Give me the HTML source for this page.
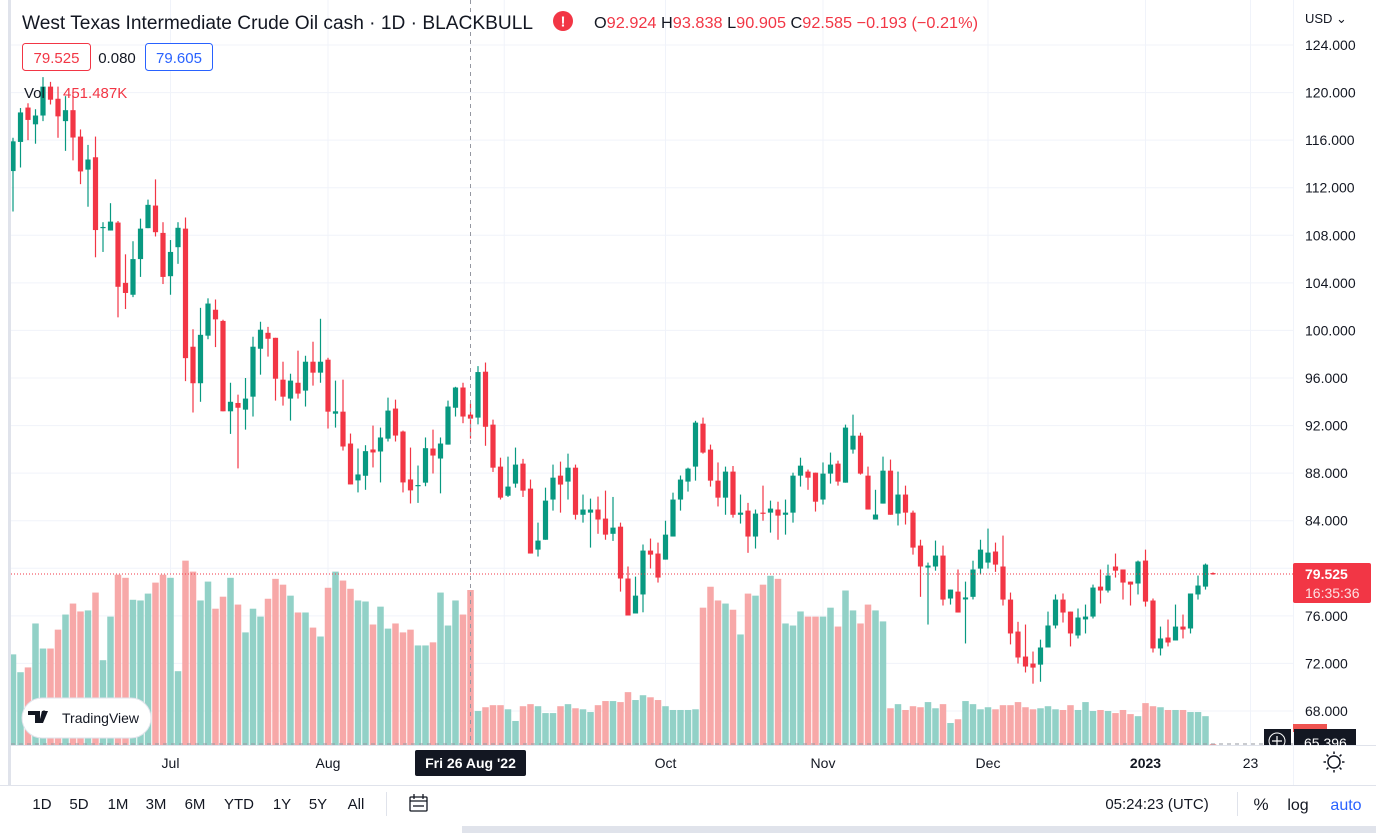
<!DOCTYPE html>
<html><head><meta charset="utf-8"><style>
html,body{margin:0;padding:0;background:#fff;width:1376px;height:833px;overflow:hidden}
svg{display:block;font-family:"Liberation Sans",Arial,sans-serif}
</style></head><body>
<svg id="chart" width="1376" height="833" viewBox="0 0 1376 833" xmlns="http://www.w3.org/2000/svg">
<rect x="0" y="0" width="1376" height="833" fill="#fff"/>
<g id="grid"></g>
<g id="vols"></g>
<g id="candles"></g>
<g id="overlay"></g>
</svg>
<script>
const opens=[113.4,115.85,118.74,117.33,118.07,120.5,119.48,117.6,118.52,116.3,113.52,114.56,108.6,108.4,109.07,104.0,103.0,106.0,108.6,110.5,108.2,104.56,107.0,108.56,98.63,95.56,99.56,101.74,100.8,93.2,93.9,93.34,94.43,98.46,99.8,99.38,95.86,94.27,95.6,94.94,97.37,96.45,97.54,93.0,93.17,90.49,87.39,87.78,89.99,89.82,90.9,93.43,91.5,87.47,86.95,87.2,90.07,89.23,90.4,93.5,95.2,92.924,92.67,96.53,92.08,88.55,86.1,87.12,88.8,86.7,81.57,82.4,85.78,87.79,87.29,88.46,84.5,84.68,84.94,84.18,82.9,83.5,79.14,76.2,77.8,81.49,81.24,80.73,82.67,85.78,87.29,88.55,92.16,89.98,87.37,85.94,88.13,84.5,84.85,82.67,84.68,84.68,84.94,84.5,84.68,87.79,88.13,88.04,85.78,87.96,88.8,87.2,89.98,91.15,87.79,84.1,85.44,88.21,84.6,86.2,84.68,81.91,80.06,80.15,81.07,77.46,78.04,77.38,77.6,79.97,80.48,81.41,80.15,77.37,74.68,72.58,71.99,71.9,73.34,75.19,77.37,76.36,74.35,75.7,75.94,78.46,78.13,80.15,79.9,78.88,78.72,80.65,77.29,73.26,74.18,73.93,75.1,74.94,77.8,78.46,79.6];
const highs=[116.2,118.7,119.1,118.6,121.3,120.9,120.5,119.7,120.0,116.9,115.6,116.3,109.1,110.7,109.2,106.4,107.5,109.4,111.0,112.7,109.1,107.6,109.1,109.5,100.1,101.9,102.7,102.6,100.9,95.6,94.6,96.0,99.47,100.73,100.3,99.38,97.37,96.36,98.3,97.87,99.05,100.98,97.7,95.78,95.86,91.33,90.07,90.35,92.0,91.83,94.35,94.18,91.58,90.15,88.64,91.0,91.66,91.0,94.1,95.26,95.6,93.838,97.0,97.3,92.5,89.3,89.39,90.15,89.2,87.46,83.84,86.78,88.72,88.97,89.64,88.72,86.2,85.86,86.03,86.53,86.0,83.84,80.15,79.3,82.0,82.5,82.16,84.0,86.36,87.8,88.46,92.4,92.67,90.4,88.9,88.55,88.6,86.2,85.5,84.94,86.95,85.69,85.6,85.78,88.04,89.3,88.3,88.04,88.9,89.73,89.05,92.08,92.92,91.4,88.55,86.6,89.39,89.14,88.13,86.95,84.85,82.4,80.48,82.33,81.91,78.21,79.9,78.88,80.64,82.4,83.34,82.16,82.75,77.96,75.5,75.27,73.0,74.0,76.36,77.8,77.88,76.36,76.62,76.95,78.63,79.9,80.31,81.24,79.9,78.88,80.65,81.57,77.46,75.1,75.69,76.95,76.11,77.88,79.39,80.4,79.65];
const lows=[110.0,113.7,116.0,115.7,117.6,119.0,116.2,115.1,114.3,112.3,110.4,106.15,106.6,108.4,101.1,101.8,102.8,104.5,108.6,107.9,103.9,103.0,105.6,95.74,93.1,94.0,99.26,98.6,93.2,91.3,88.4,91.66,92.76,96.28,97.8,94.1,93.68,92.42,94.27,93.6,95.36,95.6,91.75,91.83,89.9,87.05,86.38,86.6,88.48,87.22,90.66,90.66,86.38,85.45,85.5,86.9,87.97,86.3,90.4,92.76,92.2,90.905,92.1,90.3,88.1,85.78,86.0,86.78,86.0,81.24,80.99,82.4,84.85,84.68,85.78,84.1,83.84,81.74,82.9,82.4,82.3,78.04,76.03,76.2,76.3,79.98,78.8,80.73,82.67,84.85,86.45,87.37,89.64,86.87,85.2,84.5,84.26,83.76,81.3,81.66,84.0,83.0,82.4,82.83,83.84,86.87,86.6,84.77,85.36,87.12,86.95,87.2,89.64,87.88,84.94,84.1,85.44,84.5,83.6,83.68,81.15,77.6,75.27,79.8,76.87,76.95,76.28,73.68,77.38,79.47,79.98,79.7,76.87,73.6,71.99,71.24,70.3,70.46,73.34,74.94,75.44,73.43,74.1,74.52,75.78,77.04,77.96,79.22,77.37,76.87,77.8,76.78,72.92,72.67,73.43,73.93,74.1,74.52,77.37,78.21,79.45];
const closes=[115.9,118.33,117.7,118.07,120.5,119.4,118.0,118.52,116.22,113.37,114.37,108.44,108.7,109.15,103.67,103.15,106.0,108.56,110.56,108.26,104.5,106.6,108.63,97.67,95.56,99.63,102.26,100.93,93.2,94.0,93.5,94.27,98.63,100.06,99.3,95.94,94.43,95.78,94.69,97.37,96.45,97.37,93.17,93.2,90.24,87.05,87.89,89.85,89.74,91.0,93.26,91.16,87.22,86.55,87.0,90.1,89.48,90.49,93.6,95.2,92.76,92.585,96.5,91.9,88.46,85.94,86.87,88.72,86.53,81.24,82.33,85.69,87.62,87.04,88.46,84.5,84.94,84.94,84.1,82.83,83.42,79.14,76.03,77.7,81.49,81.15,79.22,82.83,85.78,87.46,88.38,92.25,89.73,87.37,85.94,88.13,84.5,84.68,82.67,84.6,84.6,85.02,84.43,84.68,87.79,88.63,87.62,85.6,87.96,88.72,87.29,91.83,91.15,87.96,84.94,84.52,88.21,84.5,86.2,84.68,81.74,80.15,80.23,81.07,77.37,78.21,76.28,77.55,79.9,81.57,81.32,80.31,77.37,74.52,72.5,71.74,71.65,73.34,75.19,77.37,76.28,74.52,75.86,75.94,78.38,78.13,79.39,79.8,78.8,78.63,80.57,77.2,73.26,74.1,73.76,75.1,74.85,77.88,78.55,80.31,79.525];
const volumes=[264,212,226,354,281,281,336,380,412,389,392,444,247,374,496,487,423,421,441,473,496,487,215,537,505,421,476,397,432,487,409,328,397,374,426,484,467,435,386,386,342,316,458,505,479,455,421,418,351,403,339,354,328,336,290,290,299,444,348,421,380,451.487,99,110,116,116,104,70,113,119,113,93,93,113,119,107,104,96,116,128,128,125,154,131,145,139,131,113,102,102,102,104,400,461,421,412,394,322,441,435,467,493,484,354,348,389,374,374,374,400,345,450,392,354,409,392,360,107,119,102,113,110,125,107,119,64,75,128,119,104,110,104,116,116,125,110,104,107,113,104,102,116,102,125,99,102,99,93,102,90,84,122,113,110,102,102,102,96,96,84,3];
const priceTicks=[124,120,116,112,108,104,100,96,92,88,84,80,76,72,68];
const timeLabels=["Jul","Aug","Oct","Nov","Dec","2023","23"];
const timeIdx=[21,42,87,108,130,151,165];
const lastPrice=79.525;

const NS="http://www.w3.org/2000/svg";
const xOf=i=>13+7.5*i;
const yOf=p=>45+(124-p)*11.893;
const volBase=745, volScale=155/451.487;
const yVol=v=>volBase-v*volScale;
const GREEN="#089981",RED="#f23645";
function mk(tag,attrs,parent,text){const e=document.createElementNS(NS,tag);for(const k in attrs)e.setAttribute(k,attrs[k]);if(text!==undefined)e.textContent=text;parent.appendChild(e);return e;}
const grid=document.getElementById('grid'),vols=document.getElementById('vols'),cg=document.getElementById('candles'),ov=document.getElementById('overlay');

priceTicks.forEach(p=>{const l=mk('line',{x1:11,x2:1293,y1:yOf(p),y2:yOf(p),stroke:'#f0f3fa','stroke-width':1},grid);

});
[...timeIdx.slice(0,2),65.5,...timeIdx.slice(2)].forEach(i=>{const l=mk('line',{x1:xOf(i),x2:xOf(i),y1:0,y2:745,stroke:'#f0f3fa','stroke-width':1},grid);

});

volumes.forEach((v,i)=>{const up=closes[i]>=opens[i];const y=yVol(v);
const r=mk('rect',{x:xOf(i)-3.25,y:y,width:6.5,height:volBase-y,fill:up?'#92d1c7':'#f7a8a8'},vols);

});

opens.forEach((o,i)=>{const c=closes[i],up=c>=o,col=up?GREEN:RED,x=xOf(i);
const g=mk('g',{},cg);


mk('line',{x1:x,x2:x,y1:yOf(highs[i]),y2:yOf(lows[i]),stroke:col,'stroke-width':1.2},g);
const t=yOf(Math.max(o,c)),b=yOf(Math.min(o,c));
mk('rect',{x:x-2.6,y:t,width:5.2,height:Math.max(1.2,b-t),fill:col},g);});

const lp=mk('line',{x1:11,x2:1293,y1:yOf(lastPrice),y2:yOf(lastPrice),stroke:RED,'stroke-width':1,'stroke-dasharray':'1 2'},ov);



const ch=mk('line',{x1:470.5,x2:470.5,y1:0,y2:745,stroke:'#9598a1','stroke-width':1,'stroke-dasharray':'4 4'},ov);


const chh=mk('line',{x1:11,x2:1293,y1:744,y2:744,stroke:'#9598a1','stroke-width':1,'stroke-dasharray':'4 4'},ov);



mk('rect',{x:8,y:0,width:3,height:785,fill:'#e0e3eb'},ov);
mk('line',{x1:11,x2:1376,y1:745.5,y2:745.5,stroke:'#e0e3eb'},ov);
mk('line',{x1:1293.5,x2:1293.5,y1:0,y2:785,stroke:'#f0f3fa'},ov);
mk('line',{x1:0,x2:1376,y1:785.5,y2:785.5,stroke:'#e0e3eb'},ov);
mk('rect',{x:462,y:826,width:914,height:7,fill:'#e0e3eb'},ov);

priceTicks.forEach(p=>{const t=mk('text',{x:1305,y:yOf(p)+5,'font-size':14,fill:'#131722'},ov,p.toFixed(3));

});
const usd=mk('text',{x:1305,y:23,'font-size':13,fill:'#131722'},ov,'USD ⌄');



const lpl=mk('g',{},ov);


mk('rect',{x:1293,y:yOf(lastPrice)-11,width:78,height:40,rx:2,fill:RED},lpl);
mk('text',{x:1305,y:yOf(lastPrice)+5,'font-size':14,fill:'#fff','font-weight':'bold'},lpl,lastPrice.toFixed(3));
mk('text',{x:1305,y:yOf(lastPrice)+24,'font-size':14,fill:'#fde0e2'},lpl,'16:35:36');

mk('rect',{x:1293,y:724,width:34,height:8,fill:'#ef5350'},ov);
const cpl=mk('g',{},ov);


mk('rect',{x:1294,y:729,width:62,height:16,fill:'#131722'},cpl);
mk('text',{x:1304,y:748,'font-size':14,fill:'#fff'},cpl,'65.396');
const plus=mk('g',{},ov);


mk('rect',{x:1264,y:729,width:27,height:16,fill:'#131722'},plus);
mk('circle',{cx:1277,cy:741,r:8,fill:'none',stroke:'#fff','stroke-width':1},plus);
mk('path',{d:'M1277 736v10M1272 741h10',stroke:'#fff','stroke-width':1.2},plus);

timeLabels.forEach((s,k)=>{const t=mk('text',{x:xOf(timeIdx[k]),y:768,'font-size':14,fill:'#131722','text-anchor':'middle','font-weight':s==='2023'?'bold':'normal'},ov,s);

});
const dl=mk('g',{},ov);


mk('rect',{x:415,y:750,width:111,height:26,rx:2,fill:'#131722'},dl);
mk('text',{x:470.5,y:768,'font-size':14,fill:'#fff','text-anchor':'middle','font-weight':'bold'},dl,"Fri 26 Aug '22");
const gear=mk('g',{},ov);


mk('circle',{cx:1334,cy:762,r:6,fill:'none',stroke:'#131722','stroke-width':1.5},gear);
for(let a=0;a<8;a++){const r=a*Math.PI/4;mk('line',{x1:1334+8*Math.cos(r),y1:762+8*Math.sin(r),x2:1334+10.5*Math.cos(r),y2:762+10.5*Math.sin(r),stroke:'#131722','stroke-width':1.5},gear);}
</script>

<svg width="1376" height="833" viewBox="0 0 1376 833" style="position:absolute;left:0;top:0;pointer-events:none" font-family="Liberation Sans, Arial, sans-serif">
<text x="22" y="29" font-size="19" fill="#131722" textLength="511" lengthAdjust="spacingAndGlyphs">West Texas Intermediate Crude Oil cash · 1D · BLACKBULL</text>
<g><circle cx="563" cy="21" r="10" fill="#f23645"/><text x="563" y="26.5" font-size="15" font-weight="bold" fill="#fff" text-anchor="middle">!</text></g>
<text x="594" y="28" font-size="16" fill="#131722" textLength="384" lengthAdjust="spacingAndGlyphs">O<tspan fill="#f23645">92.924</tspan> H<tspan fill="#f23645">93.838</tspan> L<tspan fill="#f23645">90.905</tspan> C<tspan fill="#f23645">92.585 −0.193 (−0.21%)</tspan></text>
<g><rect x="22.5" y="43.5" width="68" height="27" rx="3" fill="#fff" stroke="#f23645"/><text x="56.5" y="63" font-size="15" fill="#f23645" text-anchor="middle">79.525</text></g>
<text x="117" y="63" font-size="15" fill="#131722" text-anchor="middle">0.080</text>
<g><rect x="145.5" y="43.5" width="67" height="27" rx="3" fill="#fff" stroke="#2962ff"/><text x="179" y="63" font-size="15" fill="#2962ff" text-anchor="middle">79.605</text></g>
<text x="24" y="98" font-size="15" fill="#131722">Vol</text>
<text x="63" y="98" font-size="15" fill="#f23645">451.487K</text>
<g><rect x="22" y="698" width="129" height="40" rx="20" fill="#fff" stroke="#e0e3eb"/><path d="M28 711h12v12h-5v-8h-7z M42 711h6l-5 12h-4z" fill="#131722"/><circle cx="44" cy="713" r="2.5" fill="#131722"/><text x="62" y="723" font-size="14" fill="#131722">TradingView</text></g>
<g font-size="15" fill="#131722">
<text x="42" y="809" text-anchor="middle">1D</text>
<text x="79" y="809" text-anchor="middle">5D</text>
<text x="118" y="809" text-anchor="middle">1M</text>
<text x="156" y="809" text-anchor="middle">3M</text>
<text x="195" y="809" text-anchor="middle">6M</text>
<text x="239" y="809" text-anchor="middle">YTD</text>
<text x="282" y="809" text-anchor="middle">1Y</text>
<text x="318" y="809" text-anchor="middle">5Y</text>
<text x="356" y="809" text-anchor="middle">All</text>
</g>
<line x1="386.5" y1="792" x2="386.5" y2="816" stroke="#e0e3eb"/>
<g stroke="#131722" fill="none" stroke-width="1.3"><rect x="410" y="797" width="17" height="14" rx="1"/><line x1="410" y1="801" x2="427" y2="801"/><line x1="414" y1="794" x2="414" y2="799"/><line x1="423" y1="794" x2="423" y2="799"/><line x1="413" y1="806" x2="424" y2="806"/></g>
<text x="1157" y="809" font-size="15" fill="#131722" text-anchor="middle">05:24:23 (UTC)</text>
<line x1="1237.5" y1="792" x2="1237.5" y2="816" stroke="#e0e3eb"/>
<text x="1261" y="810" font-size="17" fill="#131722" text-anchor="middle">%</text>
<text x="1298" y="810" font-size="16" fill="#131722" text-anchor="middle">log</text>
<text x="1346" y="810" font-size="16" fill="#2962ff" text-anchor="middle">auto</text>
</svg>
</body></html>
